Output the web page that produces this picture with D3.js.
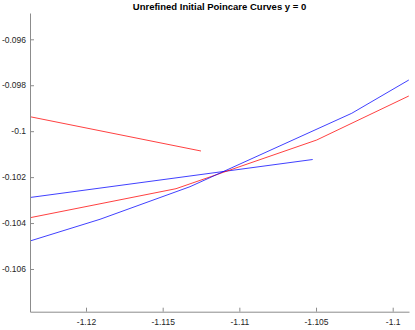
<!DOCTYPE html>
<html>
<head>
<meta charset="utf-8">
<script src="https://cdn.jsdelivr.net/npm/d3@7"></script>
<style>
  body { margin: 0; background: #fff; }
  svg { display: block; }
</style>
</head>
<body>
<svg id="chart" width="415" height="330"></svg>
<script>
// ---- data ----
const titleText = "Unrefined Initial Poincare Curves y = 0";
const xTicks = [-1.12, -1.115, -1.11, -1.105, -1.1];
const xTickLabels = ["-1.12", "-1.115", "-1.11", "-1.105", "-1.1"];
const yTicks = [-0.096, -0.098, -0.1, -0.102, -0.104, -0.106];
const yTickLabels = ["-0.096", "-0.098", "-0.1", "-0.102", "-0.104", "-0.106"];
const xDomain = [-1.123652, -1.098937];
const yDomain = [-0.107859, -0.094855];

// series: red short
const redShortX = [-1.12365, -1.112501];
const redShortY = [-0.099370, -0.100863];
// series: blue flat
const blueFlatX = [-1.12365, -1.105217];
const blueFlatY = [-0.102887, -0.101233];
// series: red long
const redLongX = [-1.12365, -1.114131, -1.104956, -1.09895];
const redLongY = [-0.103767, -0.102504, -0.100384, -0.098468];
// series: blue long
const blueLongX = [-1.12365, -1.119087, -1.113218, -1.102673, -1.09895];
const blueLongY = [-0.104781, -0.103836, -0.102417, -0.099222, -0.097772];

const seriesList = [
  { xs: redShortX, ys: redShortY, color: "#ff0000" },
  { xs: blueFlatX, ys: blueFlatY, color: "#0000ff" },
  { xs: redLongX, ys: redLongY, color: "#ff0000" },
  { xs: blueLongX, ys: blueLongY, color: "#0000ff" }
];

// ---- layout ----
const mLeft = 30, mRight = 409, mTop = 13, mBottom = 311.7;
const svg = d3.select("#chart");

const x = d3.scaleLinear().domain(xDomain).range([mLeft, mRight]);
const y = d3.scaleLinear().domain(yDomain).range([mBottom, mTop]);

const font = "'Liberation Sans', Arial, Helvetica, sans-serif";

// clip
svg.append("clipPath").attr("id", "clip")
  .append("rect").attr("x", mLeft).attr("y", mTop)
  .attr("width", mRight - mLeft).attr("height", mBottom - mTop);

// lines
const line = d3.line().x(d => x(d[0])).y(d => y(d[1]));
const g = svg.append("g").attr("clip-path", "url(#clip)");
seriesList.forEach(s => {
  const pts = s.xs.map((v, i) => [v, s.ys[i]]);
  g.append("path").datum(pts)
    .attr("d", line)
    .attr("fill", "none")
    .attr("stroke", s.color)
    .attr("stroke-opacity", 0.75)
    .attr("stroke-width", 1);
});

// axes
const xAxis = d3.axisBottom(x).tickValues(xTicks)
  .tickFormat((d, i) => xTickLabels[i]).tickSizeInner(-4).tickSizeOuter(0).tickPadding(7);
const yAxis = d3.axisLeft(y).tickValues(yTicks)
  .tickFormat((d, i) => yTickLabels[i]).tickSizeInner(-4).tickSizeOuter(0).tickPadding(4);

const gx = svg.append("g").attr("transform", `translate(0,${mBottom})`).call(xAxis);
const gy = svg.append("g").attr("transform", `translate(${mLeft},0)`).call(yAxis);

[gx, gy].forEach(ax => {
  ax.select(".domain").attr("stroke", "#8c8c8c").attr("stroke-width", 1);
  ax.selectAll(".tick line").attr("stroke", "#8c8c8c").attr("stroke-width", 1);
  ax.selectAll(".tick text").attr("fill", "#262626")
    .style("font-family", font).style("font-size", "8.5px");
});
gx.selectAll(".tick text").attr("dy", "0.71em");

// title
svg.append("text")
  .attr("x", (mLeft + mRight) / 2)
  .attr("y", 9.7)
  .attr("text-anchor", "middle")
  .style("font-family", font)
  .style("font-weight", "bold")
  .style("font-size", "9.5px")
  .attr("fill", "#000")
  .text(titleText);
</script>
</body>
</html>
